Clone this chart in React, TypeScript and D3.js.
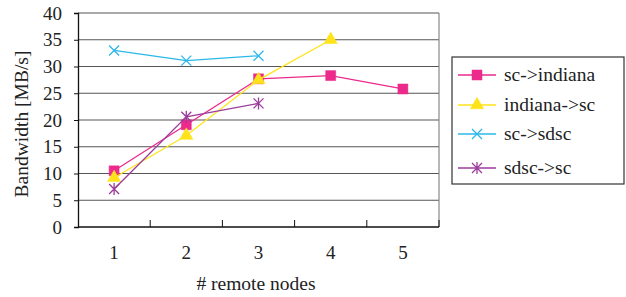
import { useEffect, useRef } from 'react';
import * as d3 from 'd3';

const nodes = ['1', '2', '3', '4', '5'];
const yTicks = [0, 5, 10, 15, 20, 25, 30, 35, 40];

const scToIndiana = [10.5, 19.1, 27.7, 28.3, 25.8];
const indianaToSc = [9.2, 17.1, 27.5, 35.0];
const scToSdsc = [33.0, 31.1, 32.0];
const sdscToSc = [7.1, 20.6, 23.1];

const seriesNames = ['sc->indiana', 'indiana->sc', 'sc->sdsc', 'sdsc->sc'];
const seriesColors = ['#EB2A8C', '#FFE31A', '#2BB8E8', '#9B3C9B'];
const seriesMarkers = ['square', 'triangle', 'x', 'star'];

const FONT = 'Liberation Serif, DejaVu Serif, serif';

function markerPath(kind: string, s: number) {
  const h = s / 2;
  if (kind === 'square') return d3.symbol(d3.symbolSquare, s * s)()!;
  if (kind === 'triangle') return d3.symbol(d3.symbolTriangle, s * s * 0.45)()!;
  if (kind === 'x') return `M${-h},${-h}L${h},${h}M${-h},${h}L${h},${-h}`;
  return `M${-h},${-h}L${h},${h}M${-h},${h}L${h},${-h}M0,${-h * 1.2}L0,${h * 1.2}`;
}

export default function App() {
  const svgRef = useRef<SVGSVGElement>(null);

  useEffect(() => {
    const svg = d3.select(svgRef.current);
    svg.selectAll('*').remove();

    const left = 78, right = 439, top = 13, bottom = 227;

    const x = d3.scaleBand().domain(nodes).range([left, right]).paddingInner(0).paddingOuter(0);
    const y = d3.scaleLinear().domain([0, 40]).range([bottom, top]);
    const cx = (i: number) => x(nodes[i])! + x.bandwidth() / 2;

    const g = svg.append('g').attr('font-family', FONT);

    // grid lines
    g.selectAll('.grid')
      .data(yTicks.filter(t => t > 0))
      .join('line')
      .attr('x1', left)
      .attr('x2', right)
      .attr('y1', d => y(d))
      .attr('y2', d => y(d))
      .attr('stroke', '#555')
      .attr('stroke-width', 1.2);

    // right border
    g.append('line')
      .attr('x1', right).attr('x2', right)
      .attr('y1', top).attr('y2', bottom)
      .attr('stroke', '#888').attr('stroke-width', 1.2);

    // y axis
    const yAxis = g.append('g')
      .attr('transform', `translate(${left},0)`)
      .call(d3.axisLeft(y).tickValues(yTicks).tickSize(4).tickPadding(12).tickFormat(d3.format('d')));
    yAxis.attr('font-family', FONT).attr('font-size', 19);
    yAxis.select('.domain').attr('stroke', '#111').attr('stroke-width', 1.3);
    yAxis.selectAll('line').attr('stroke', '#111');
    yAxis.selectAll('text').attr('fill', '#222');

    // x axis, ticks at band edges pointing inward
    g.append('line')
      .attr('x1', left).attr('x2', right)
      .attr('y1', bottom).attr('y2', bottom)
      .attr('stroke', '#111').attr('stroke-width', 1.3);
    g.selectAll('.xtick')
      .data(nodes)
      .join('line')
      .attr('x1', d => x(d)! + x.bandwidth())
      .attr('x2', d => x(d)! + x.bandwidth())
      .attr('y1', bottom)
      .attr('y2', bottom - 7)
      .attr('stroke', '#111');
    g.selectAll('.xlabel')
      .data(nodes)
      .join('text')
      .attr('x', (d, i) => cx(i))
      .attr('y', 259)
      .attr('text-anchor', 'middle')
      .attr('fill', '#222')
      .attr('font-size', 19)
      .text(d => d);

    // axis titles
    g.append('text')
      .attr('x', 256)
      .attr('y', 290)
      .attr('text-anchor', 'middle')
      .attr('fill', '#222')
      .attr('font-size', 19.5)
      .text('# remote nodes');
    g.append('text')
      .attr('transform', 'translate(28,124) rotate(-90)')
      .attr('text-anchor', 'middle')
      .attr('fill', '#222')
      .attr('font-size', 19.5)
      .text('Bandwidth [MB/s]');

    const allSeries = [scToIndiana, indianaToSc, scToSdsc, sdscToSc];
    const line = d3.line<number>().x((d, i) => cx(i)).y(d => y(d));

    allSeries.forEach((vals, k) => {
      const color = seriesColors[k];
      const kind = seriesMarkers[k];
      g.append('path')
        .attr('d', line(vals))
        .attr('fill', 'none')
        .attr('stroke', color)
        .attr('stroke-width', 1.3);
      g.selectAll(`.m${k}`)
        .data(vals)
        .join('path')
        .attr('transform', (d, i) => `translate(${cx(i)},${y(d)})`)
        .attr('d', markerPath(kind, kind === 'triangle' ? 13 : 10))
        .attr('fill', kind === 'square' || kind === 'triangle' ? color : 'none')
        .attr('stroke', color)
        .attr('stroke-width', kind === 'square' || kind === 'triangle' ? 0.5 : 1.3);
    });

    // legend
    const lg = g.append('g');
    lg.append('rect')
      .attr('x', 452).attr('y', 57)
      .attr('width', 172).attr('height', 127)
      .attr('fill', 'white')
      .attr('stroke', '#333')
      .attr('stroke-width', 1.2);
    const rowY = [75, 105, 134, 168];
    seriesNames.forEach((name, k) => {
      const color = seriesColors[k];
      const kind = seriesMarkers[k];
      lg.append('line')
        .attr('x1', 458).attr('x2', 496)
        .attr('y1', rowY[k]).attr('y2', rowY[k])
        .attr('stroke', color).attr('stroke-width', 1.3);
      lg.append('path')
        .attr('transform', `translate(477,${rowY[k]})`)
        .attr('d', markerPath(kind, kind === 'triangle' ? 13 : 10))
        .attr('fill', kind === 'square' || kind === 'triangle' ? color : 'none')
        .attr('stroke', color)
        .attr('stroke-width', kind === 'square' || kind === 'triangle' ? 0.5 : 1.3);
      lg.append('text')
        .attr('x', 504)
        .attr('y', rowY[k] + 6)
        .attr('fill', '#222')
        .attr('font-size', 19.5)
        .text(name);
    });
  }, []);

  return (
    <svg
      ref={svgRef}
      width={626}
      height={297}
      style={{ position: 'absolute', left: 0, top: 0, background: 'white' }}
    />
  );
}
